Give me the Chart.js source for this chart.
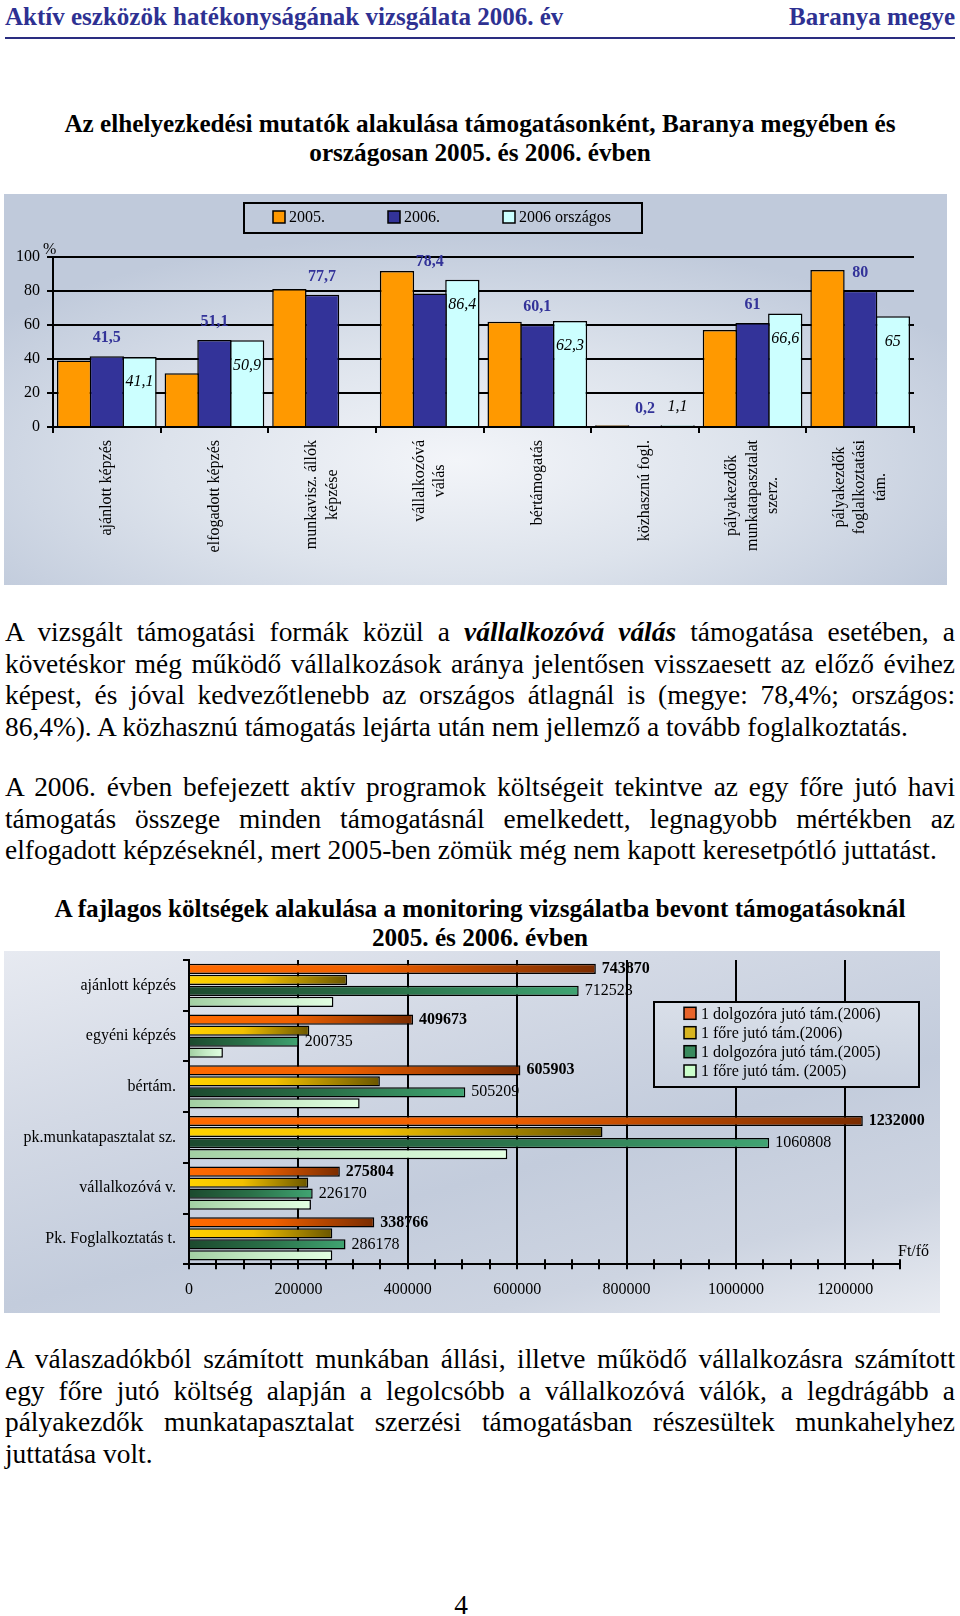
<!DOCTYPE html>
<html lang="hu">
<head>
<meta charset="utf-8">
<script src="https://cdn.jsdelivr.net/npm/chart.js@4.4.1/dist/chart.umd.min.js"></script>
<style>
  html, body { margin:0; padding:0; }
  body { width:960px; height:1616px; position:relative; background:#fff; overflow:hidden;
         font-family:'Liberation Serif','Times New Roman',serif; color:#000; }
  .abs { position:absolute; }
  .hdr { top:2px; font-size:25px; font-weight:bold; color:#2E3192; line-height:30px; white-space:nowrap; }
  .rule { left:5px; top:37px; width:950px; height:2px; background:#2A2D80; }
  .title { left:0; width:960px; text-align:center; font-size:25.2px; font-weight:bold; line-height:29px; }
  .para { left:5px; width:950px; font-size:27.4px; line-height:31.6px; }
  .para div { height:31.6px; text-align:justify; text-align-last:justify; }
  .para div.last { text-align:left; text-align-last:left; }
  .box1 { left:4px; top:194px; width:943px; height:391px;
          background: radial-gradient(ellipse 62% 58% at 48% 68%, #f3f5f9 0%, #dde3ec 50%, #c0cadb 100%); }
  .box2 { left:4px; top:951px; width:936px; height:362px;
          background: linear-gradient(165deg, #e7eaf1 0%, #d3d9e5 30%, #c3ccdc 58%, #cdd4e1 80%, #e8ebf1 100%); }
  canvas { display:block; }
</style>
</head>
<body>

<div class="abs hdr" style="left:5px;">Aktív eszközök hatékonyságának vizsgálata 2006. év</div>
<div class="abs hdr" style="right:5px;">Baranya megye</div>
<div class="abs rule"></div>

<div class="abs title" style="top:109px;">Az elhelyezkedési mutatók alakulása támogatásonként, Baranya megyében és<br>országosan 2005. és 2006. évben</div>

<div class="abs box1"><canvas id="c1" width="943" height="391"></canvas></div>

<div class="abs para" style="top:617px;">
  <div>A vizsgált támogatási formák közül a <b><i>vállalkozóvá válás</i></b> támogatása esetében, a</div>
  <div>követéskor még működő vállalkozások aránya jelentősen visszaesett az előző évihez</div>
  <div>képest, és jóval kedvezőtlenebb az országos átlagnál is (megye: 78,4%; országos:</div>
  <div class="last">86,4%). A közhasznú támogatás lejárta után nem jellemző a tovább foglalkoztatás.</div>
</div>

<div class="abs para" style="top:772px;">
  <div>A 2006. évben befejezett aktív programok költségeit tekintve az egy főre jutó havi</div>
  <div>támogatás összege minden támogatásnál emelkedett, legnagyobb mértékben az</div>
  <div class="last">elfogadott képzéseknél, mert 2005-ben zömük még nem kapott keresetpótló juttatást.</div>
</div>

<div class="abs title" style="top:894px;">A fajlagos költségek alakulása a monitoring vizsgálatba bevont támogatásoknál<br>2005. és 2006. évben</div>

<div class="abs box2"><canvas id="c2" width="936" height="362"></canvas></div>

<div class="abs para" style="top:1344px;">
  <div>A válaszadókból számított munkában állási, illetve működő vállalkozásra számított</div>
  <div>egy főre jutó költség alapján a legolcsóbb a vállalkozóvá válók, a legdrágább a</div>
  <div>pályakezdők munkatapasztalat szerzési támogatásban részesültek munkahelyhez</div>
  <div class="last">juttatása volt.</div>
</div>

<div class="abs" style="left:0;width:922px;text-align:center;top:1590px;font-size:27.4px;line-height:31.6px;">4</div>

<script>
// ---------- Chart 1 data ----------
const categories1 = [
  ["ajánlott képzés"],
  ["elfogadott képzés"],
  ["munkavisz. állók", "képzése"],
  ["vállalkozóvá", "válás"],
  ["bértámogatás"],
  ["közhasznú fogl."],
  ["pályakezdők", "munkatapasztalat", "szerz."],
  ["pályakezdők", "foglalkoztatási", "tám."]
];
const seriesNames1 = ["2005.", "2006.", "2006 országos"];
const s2005 = [39, 31.5, 81, 91.6, 61.8, 1.0, 57, 92.2];
const s2006 = [41.5, 51.1, 77.7, 78.4, 60.1, 0.2, 61, 80];
const sOrszagos = [41.1, 50.9, null, 86.4, 62.3, 1.1, 66.6, 65];
const yTicks1 = [0, 20, 40, 60, 80, 100];

// ---------- Chart 2 data ----------
const categories2 = ["ajánlott képzés", "egyéni képzés", "bértám.", "pk.munkatapasztalat sz.", "vállalkozóvá v.", "Pk. Foglalkoztatás t."];
const seriesNames2 = ["1 dolgozóra jutó tám.(2006)", "1 főre jutó tám.(2006)", "1 dolgozóra jutó tám.(2005)", "1 főre jutó tám. (2005)"];
const worker2006 = [743870, 409673, 605903, 1232000, 275804, 338766];
const person2006 = [289000, 220000, 349000, 756000, 218000, 262000];
const worker2005 = [712523, 200735, 505209, 1060808, 226170, 286178];
const person2005 = [264000, 62000, 312000, 582000, 223000, 262000];
const xTickLabels2 = [0, 200000, 400000, 600000, 800000, 1000000, 1200000];
const xMinorStep2 = 50000;
const xMax2 = 1300000;

const FF = "'Liberation Serif','Times New Roman',serif";
const fmt = v => String(v).replace('.', ',');

// ---------- Chart 1 ----------
const c1Plugin = {
  id: 'c1plugin',
  afterDatasetsDraw(ch) {
    const ctx = ch.ctx;
    ctx.save();
    ctx.textAlign = 'center';
    ctx.textBaseline = 'middle';
    const m1 = ch.getDatasetMeta(1), m2 = ch.getDatasetMeta(2);
    m1.data.forEach((el, i) => {
      const v = s2006[i];
      if (v == null) return;
      let top = el.y;
      const o = sOrszagos[i];
      if (o != null && o - v > 7) top = m2.data[i].y;
      ctx.font = 'bold 16px ' + FF;
      ctx.fillStyle = '#333399';
      ctx.fillText(fmt(v), el.x, top - 18);
    });
    m2.data.forEach((el, i) => {
      const v = sOrszagos[i];
      if (v == null) return;
      const h = el.base - el.y;
      ctx.font = 'italic 16px ' + FF;
      ctx.fillStyle = '#000';
      ctx.fillText(fmt(v), el.x, h > 30 ? el.y + 25 : el.y - 18);
    });
    ctx.restore();
  },
  afterDraw(ch) {
    const ctx = ch.ctx;
    const xs = ch.scales.x;
    const ca = ch.chartArea;
    ctx.save();
    ctx.font = '16px ' + FF;
    ctx.fillStyle = '#000';
    categories1.forEach((lines, i) => {
      const cx = xs.getPixelForTick(i);
      const maxW = Math.max(...lines.map(l => ctx.measureText(l).width));
      const cy = ca.bottom + 13 + maxW / 2;
      lines.forEach((l, j) => {
        const lx = cx + (j - (lines.length - 1) / 2) * 20.5;
        ctx.save();
        ctx.translate(lx, cy);
        ctx.rotate(-Math.PI / 2);
        ctx.textAlign = 'center';
        ctx.textBaseline = 'middle';
        ctx.fillText(l, 0, 0);
        ctx.restore();
      });
    });
    ctx.textAlign = 'left';
    ctx.textBaseline = 'middle';
    ctx.fillText('%', ca.left - 10, ca.top - 7);
    // legend
    ctx.lineWidth = 2;
    ctx.strokeStyle = '#000';
    ctx.strokeRect(240, 9, 398, 30);
    const lx = [269, 384, 499];
    ch.data.datasets.forEach((ds, k) => {
      ctx.fillStyle = ds.backgroundColor;
      ctx.fillRect(lx[k], 17, 12, 12);
      ctx.lineWidth = 1.5;
      ctx.strokeRect(lx[k], 17, 12, 12);
      ctx.fillStyle = '#000';
      ctx.font = '16px ' + FF;
      ctx.fillText(ds.label, lx[k] + 16, 23.5);
    });
    ctx.restore();
  }
};

new Chart(document.getElementById('c1'), {
  type: 'bar',
  data: {
    labels: categories1,
    datasets: [
      { label: seriesNames1[0], data: s2005, backgroundColor: '#FF9900' },
      { label: seriesNames1[1], data: s2006, backgroundColor: '#333399' },
      { label: seriesNames1[2], data: sOrszagos, backgroundColor: '#CCFFFF' }
    ]
  },
  options: {
    responsive: false,
    animation: false,
    devicePixelRatio: 1,
    layout: { padding: { left: 0, right: 33, top: 62.7, bottom: 0 } },
    datasets: { bar: { borderColor: '#000', borderWidth: 1.5, categoryPercentage: 0.911, barPercentage: 1.05 } },
    plugins: { legend: { display: false }, tooltip: { enabled: false } },
    scales: {
      x: {
        grid: { display: true, drawOnChartArea: false, offset: true, color: '#000', lineWidth: 2, tickLength: 6 },
        border: { color: '#000', width: 2 },
        ticks: { display: false },
        afterFit(s) { s.height = 158; }
      },
      y: {
        min: 0, max: 100,
        afterBuildTicks(s) { s.ticks = yTicks1.map(v => ({ value: v })); },
        ticks: { color: '#000', font: { family: FF, size: 16 }, padding: 7 },
        grid: { color: '#000', lineWidth: 2, tickLength: 6 },
        border: { color: '#000', width: 2 },
        afterFit(s) { s.width = 49; s.paddingTop = 0; s.paddingBottom = 0; }
      }
    }
  },
  plugins: [c1Plugin]
});

// ---------- Chart 2 ----------
function grad(stops, solid) {
  return (c) => {
    if (c.type !== 'data' || c.raw == null) return solid;
    const ch = c.chart, xs = ch.scales.x;
    if (!xs) return solid;
    const x0 = xs.getPixelForValue(0), x1 = xs.getPixelForValue(c.raw);
    if (!isFinite(x0) || !isFinite(x1) || x1 <= x0) return solid;
    const g = ch.ctx.createLinearGradient(x0, 0, x1, 0);
    stops.forEach(([o, col]) => g.addColorStop(o, col));
    return g;
  };
}
const legendColors2 = ['#E8642A', '#D8B420', '#3A8A5E', '#CCFFCC'];

const c2Plugin = {
  id: 'c2plugin',
  afterDatasetsDraw(ch) {
    const ctx = ch.ctx;
    ctx.save();
    ctx.textAlign = 'left';
    ctx.textBaseline = 'middle';
    ctx.fillStyle = '#000';
    ch.getDatasetMeta(0).data.forEach((el, i) => {
      ctx.font = 'bold 16px ' + FF;
      ctx.fillText(String(worker2006[i]), el.x + 6, el.y);
    });
    ch.getDatasetMeta(2).data.forEach((el, i) => {
      ctx.font = '16px ' + FF;
      ctx.fillText(String(worker2005[i]), el.x + 6, el.y);
    });
    ctx.restore();
  },
  afterDraw(ch) {
    const ctx = ch.ctx, xs = ch.scales.x, ca = ch.chartArea;
    ctx.save();
    ctx.strokeStyle = '#000';
    ctx.lineWidth = 2;
    xs.ticks.forEach(t => {
      const px = Math.round(xs.getPixelForValue(t.value));
      ctx.beginPath();
      ctx.moveTo(px, ca.bottom - 5);
      ctx.lineTo(px, ca.bottom + 5);
      ctx.stroke();
    });
    ctx.font = '16px ' + FF;
    ctx.fillStyle = '#000';
    ctx.textAlign = 'left';
    ctx.textBaseline = 'middle';
    ctx.fillText('Ft/fő', ca.right - 2, ca.bottom - 13);
    // legend (opaque box)
    const lg = ctx.createLinearGradient(0, 51, 0, 136);
    lg.addColorStop(0, '#d9dfe9');
    lg.addColorStop(1, '#c9d1df');
    ctx.fillStyle = lg;
    ctx.fillRect(650, 51, 265, 85);
    ctx.lineWidth = 2;
    ctx.strokeStyle = '#000';
    ctx.strokeRect(650, 51, 265, 85);
    const ys = [62.3, 81.7, 100.7, 120];
    ch.data.datasets.forEach((ds, k) => {
      ctx.fillStyle = legendColors2[k];
      ctx.fillRect(680, ys[k] - 6, 12, 12);
      ctx.lineWidth = 1.5;
      ctx.strokeRect(680, ys[k] - 6, 12, 12);
      ctx.fillStyle = '#000';
      ctx.fillText(ds.label, 697, ys[k] + 1);
    });
    ctx.restore();
  }
};

new Chart(document.getElementById('c2'), {
  type: 'bar',
  data: {
    labels: categories2,
    datasets: [
      { label: seriesNames2[0], data: worker2006,
        backgroundColor: grad([[0, '#FF6A00'], [0.45, '#F06000'], [1, '#7A2C00']], '#E8642A') },
      { label: seriesNames2[1], data: person2006,
        backgroundColor: grad([[0, '#FFD200'], [0.45, '#F2C000'], [1, '#6A5600']], '#D8B420') },
      { label: seriesNames2[2], data: worker2005,
        backgroundColor: grad([[0, '#1C4A2E'], [0.5, '#2A7048'], [1, '#40A472']], '#3A8A5E') },
      { label: seriesNames2[3], data: person2005,
        backgroundColor: grad([[0, '#A2CFA2'], [0.5, '#C6EBC6'], [1, '#E2FFE2']], '#CCFFCC') }
    ]
  },
  options: {
    indexAxis: 'y',
    responsive: false,
    animation: false,
    devicePixelRatio: 1,
    layout: { padding: { left: 0, right: 40, top: 9, bottom: 0 } },
    datasets: { bar: { borderColor: '#000', borderWidth: 1.5, categoryPercentage: 0.868, barPercentage: 0.93 } },
    plugins: { legend: { display: false }, tooltip: { enabled: false } },
    scales: {
      x: {
        min: 0, max: xMax2,
        afterBuildTicks(s) {
          const t = [];
          for (let v = 0; v <= xMax2; v += xMinorStep2) t.push({ value: v });
          s.ticks = t;
        },
        ticks: {
          autoSkip: false, maxRotation: 0, color: '#000', font: { family: FF, size: 16 }, padding: 16,
          callback: (v) => xTickLabels2.includes(v) ? String(v) : ''
        },
        grid: {
          drawTicks: false, lineWidth: 2,
          color: (c) => (c.tick && c.tick.value > 0 && xTickLabels2.includes(c.tick.value)) ? '#000' : 'rgba(0,0,0,0)'
        },
        border: { color: '#000', width: 2 },
        afterFit(s) { s.height = 48.7; }
      },
      y: {
        grid: { offset: true, drawOnChartArea: false, color: '#000', lineWidth: 2, tickLength: 6 },
        border: { color: '#000', width: 2 },
        ticks: { color: '#000', font: { family: FF, size: 16 }, padding: 7 },
        afterFit(s) { s.width = 185; s.paddingTop = 0; s.paddingBottom = 0; }
      }
    }
  },
  plugins: [c2Plugin]
});
</script>
</body>
</html>
